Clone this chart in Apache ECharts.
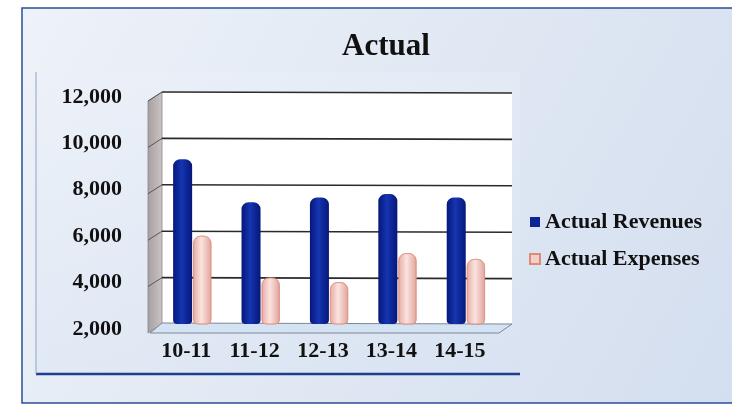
<!DOCTYPE html>
<html><head><meta charset="utf-8">
<script src="https://cdn.jsdelivr.net/npm/echarts@6/dist/echarts.min.js"></script>
<style>html,body{margin:0;padding:0;background:#fff}#c{width:732px;height:406px}</style>
</head><body><div id="c"></div>
<script>
const categories = ['10-11', '11-12', '12-13', '13-14', '14-15'];
const revenues = [9100, 7250, 7450, 7600, 7450];
const expenses = [5800, 4000, 3800, 5050, 4800];
const yTicks = [2000, 4000, 6000, 8000, 10000, 12000];
const seriesNames = ['Actual Revenues', 'Actual Expenses'];

const FONT = '"Liberation Serif", "Times New Roman", serif';
const chart = echarts.init(document.getElementById('c'), null, {renderer: 'canvas'});

const blueGrad = new echarts.graphic.LinearGradient(0, 0, 1, 0, [
  {offset: 0, color: '#06177a'}, {offset: 0.45, color: '#1535b0'}, {offset: 1, color: '#06177a'}]);
const pinkGrad = new echarts.graphic.LinearGradient(0, 0, 1, 0, [
  {offset: 0, color: '#e6aca4'}, {offset: 0.45, color: '#fbe3df'}, {offset: 1, color: '#e0a59d'}]);

const option = {
  animation: false,
  title: {
    text: 'Actual', left: 337, top: 26, itemGap: 0,
    textStyle: {fontFamily: FONT, fontSize: 31, fontWeight: 'bold', color: '#111'}
  },
  legend: {
    orient: 'vertical', left: 524, top: 206, itemGap: 15,
    itemWidth: 10, itemHeight: 10, icon: 'rect',
    data: [
      {name: seriesNames[0], itemStyle: {color: '#0c2596'}},
      {name: seriesNames[1], itemStyle: {color: '#f3cfcb'}}
    ],
    textStyle: {fontFamily: FONT, fontSize: 22, fontWeight: 'bold', color: '#111'}
  },
  grid: {left: 158, right: 232, top: 92, bottom: 82, containLabel: false},
  xAxis: {
    type: 'category', data: categories,
    axisLine: {show: false}, axisTick: {show: false},
    axisLabel: {margin: 16, fontFamily: FONT, fontSize: 22, fontWeight: 'bold', color: '#111', padding: [0, 12, 0, 0]}
  },
  yAxis: {
    type: 'value', min: yTicks[0], max: yTicks[yTicks.length - 1], interval: 2000,
    axisLine: {show: false}, axisTick: {show: false}, splitLine: {show: false},
    axisLabel: {
      margin: 36, fontFamily: FONT, fontSize: 22, fontWeight: 'bold', color: '#111',
      verticalAlign: 'top', lineHeight: 10,
      formatter: v => v.toLocaleString('en-US')
    }
  },
  series: [
    {name: seriesNames[0], type: 'bar', data: revenues, barWidth: 19, barGap: '6%', z: 5,
     itemStyle: {color: blueGrad, borderRadius: [7, 7, 4, 4]}},
    {name: seriesNames[1], type: 'bar', data: expenses, barWidth: 18, z: 5,
     itemStyle: {color: pinkGrad, borderRadius: [7, 7, 4, 4], borderColor: '#df8a76', borderWidth: 0.6}}
  ]
};
chart.setOption(option);

// 3D-looking decorations computed from the axis scale
const yPix = v => chart.convertToPixel({yAxisIndex: 0}, v);
const yTop = yPix(yTicks[yTicks.length - 1]);
const yFloor = yPix(yTicks[0]);
const wx0 = 148, wx1 = 162, wxR = 512, d = 9;
const g = [];
g.push({type: 'rect', z: -20, shape: {x: 0, y: 0, width: 732, height: 406}, style: {fill: '#ffffff'}});
g.push({type: 'rect', z: -19, shape: {x: 22, y: 8, width: 720, height: 395},
  style: {fill: new echarts.graphic.LinearGradient(0, 0, 1, 1, [
    {offset: 0, color: '#eef2f9'}, {offset: 0.5, color: '#e0e8f3'}, {offset: 1, color: '#d3deef'}]),
    stroke: '#2b4d98', lineWidth: 1.5}});
g.push({type: 'rect', z: -18, shape: {x: 36, y: 72, width: 484, height: 302},
  style: {fill: new echarts.graphic.LinearGradient(0, 0, 0, 1, [
    {offset: 0, color: 'rgba(236,241,249,0.35)'}, {offset: 1, color: 'rgba(214,225,242,0.35)'}])}});
g.push({type: 'line', z: -17, shape: {x1: 36, y1: 374, x2: 520, y2: 374}, style: {stroke: '#1f3e8e', lineWidth: 2.5}});
g.push({type: 'line', z: -17, shape: {x1: 36, y1: 72, x2: 36, y2: 374}, style: {stroke: '#8fa3c8', lineWidth: 1}});
// back wall
g.push({type: 'rect', z: -10, shape: {x: wx1, y: yTop, width: wxR - wx1, height: yFloor - yTop}, style: {fill: '#ffffff'}});
// left wall
g.push({type: 'polygon', z: -9, shape: {points: [[wx0, yTop + d], [wx1, yTop], [wx1, yFloor], [wx0, yFloor + d]]},
  style: {fill: new echarts.graphic.LinearGradient(0, 0, 1, 0, [
    {offset: 0, color: '#a69e9f'}, {offset: 1, color: '#cbc5c6'}]), stroke: '#8a8486', lineWidth: 0.8}});
// grid lines
yTicks.forEach(v => {
  if (v === yTicks[0]) return;
  const y = yPix(v);
  g.push({type: 'line', z: -8, shape: {x1: wx1, y1: y, x2: wxR, y2: y + 1}, style: {stroke: '#2a2a2a', lineWidth: 1.6}});
  g.push({type: 'line', z: -8, shape: {x1: wx0, y1: y + d, x2: wx1, y2: y}, style: {stroke: '#5a5456', lineWidth: 1}});
});
// floor
g.push({type: 'polygon', z: -7, shape: {points: [[wx1, yFloor - 1], [wxR, yFloor], [wxR - 13, yFloor + d], [wx0 + 2, yFloor + d]]},
  style: {fill: '#d3e3f4', stroke: '#7f8794', lineWidth: 1}});
chart.setOption({graphic: g});
</script>
</body></html>
